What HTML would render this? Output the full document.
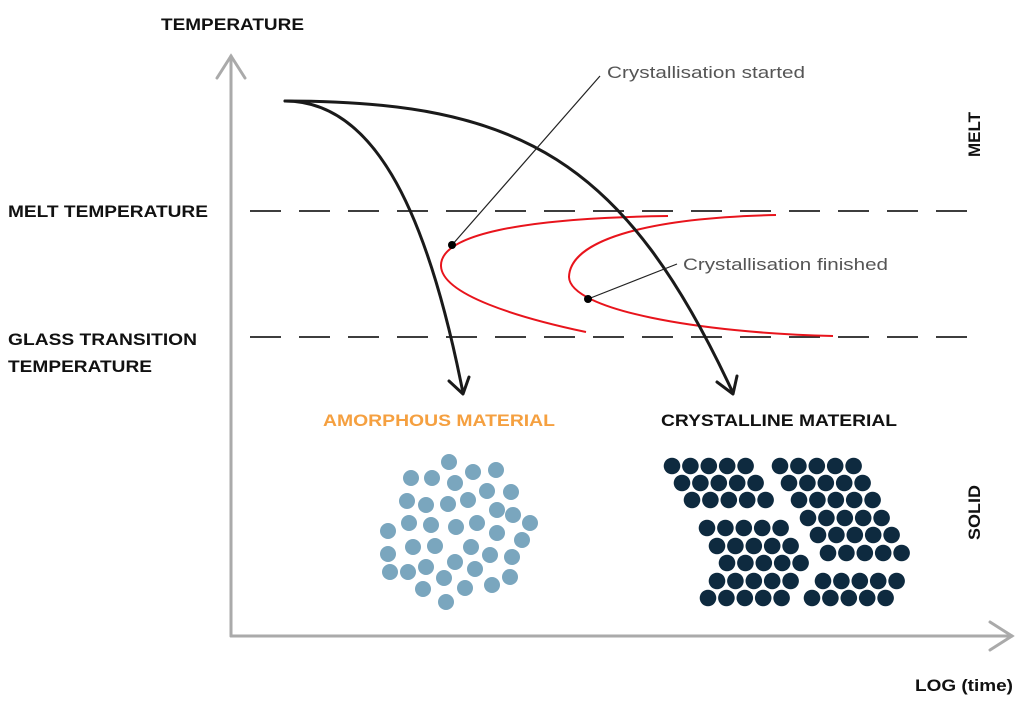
<!DOCTYPE html>
<html><head><meta charset="utf-8"><style>
html,body{margin:0;padding:0;background:#fff;}
svg{display:block;}
.b{font-family:"Liberation Sans",sans-serif;font-weight:bold;font-size:17px;fill:#111;}
.l{font-family:"Liberation Sans",sans-serif;font-size:17px;fill:#555;}
</style></head><body>
<svg width="1024" height="715" viewBox="0 0 1024 715" xmlns="http://www.w3.org/2000/svg">
<!-- axes -->
<g stroke="#aaa" stroke-width="3" fill="none" stroke-linecap="round">
<line x1="231" y1="56" x2="231" y2="636"/>
<polyline points="217,78 231,56 245,78"/>
<line x1="231" y1="636" x2="1012" y2="636"/>
<polyline points="990,622 1012,636 990,650"/>
</g>
<!-- dashed lines -->
<g stroke="#222" stroke-width="1.8" stroke-dasharray="31 18">
<line x1="250" y1="211" x2="980" y2="211"/>
<line x1="250" y1="337" x2="980" y2="337"/>
</g>
<!-- red curves -->
<g stroke="#e8141c" stroke-width="2" fill="none">
<path d="M668,216 C520,218 440,235 441,266 C442,295 520,318 586,332"/>
<path d="M776,215 C640,218 570,242 569,277 C570,310 700,333 833,336"/>
</g>
<!-- black curves -->
<g stroke="#1a1a1a" stroke-width="3" fill="none" stroke-linecap="round" stroke-linejoin="round">
<path d="M285,101 C370,101 425,200 463,393"/>
<polyline points="449,381 463,394 469,377"/>
<path d="M285,101 C520,101 625,160 733,393"/>
<polyline points="717,382 733,394 737,376"/>
</g>
<!-- leaders -->
<g stroke="#222" stroke-width="1.2">
<line x1="452" y1="245" x2="600" y2="76"/>
<line x1="588" y1="299" x2="677" y2="264"/>
</g>
<circle cx="452" cy="245" r="4" fill="#000"/>
<circle cx="588" cy="299" r="4" fill="#000"/>
<text class="l" x="607" y="78" textLength="198" lengthAdjust="spacingAndGlyphs">Crystallisation started</text>
<text class="l" x="683" y="270" textLength="205" lengthAdjust="spacingAndGlyphs">Crystallisation finished</text>
<!-- labels -->
<text class="b" x="161" y="30" textLength="143" lengthAdjust="spacingAndGlyphs">TEMPERATURE</text>
<text class="b" x="8" y="217" textLength="200" lengthAdjust="spacingAndGlyphs">MELT TEMPERATURE</text>
<text class="b" x="8" y="345" textLength="189" lengthAdjust="spacingAndGlyphs">GLASS TRANSITION</text>
<text class="b" x="8" y="372" textLength="144" lengthAdjust="spacingAndGlyphs">TEMPERATURE</text>
<text class="b" x="323" y="426" textLength="232" lengthAdjust="spacingAndGlyphs" style="fill:#f5a040">AMORPHOUS MATERIAL</text>
<text class="b" x="661" y="426" textLength="236" lengthAdjust="spacingAndGlyphs">CRYSTALLINE MATERIAL</text>
<text class="b" x="915" y="691" textLength="98" lengthAdjust="spacingAndGlyphs">LOG (time)</text>
<text class="b" transform="translate(980,157) rotate(-90)" textLength="45" lengthAdjust="spacingAndGlyphs">MELT</text>
<text class="b" transform="translate(980,540) rotate(-90)" textLength="55" lengthAdjust="spacingAndGlyphs">SOLID</text>
<!-- amorphous dots -->
<g fill="#7aa6be">
<circle cx="449" cy="462" r="8"/><circle cx="411" cy="478" r="8"/><circle cx="432" cy="478" r="8"/><circle cx="473" cy="472" r="8"/><circle cx="496" cy="470" r="8"/><circle cx="455" cy="483" r="8"/>
<circle cx="407" cy="501" r="8"/><circle cx="426" cy="505" r="8"/><circle cx="448" cy="504" r="8"/><circle cx="468" cy="500" r="8"/><circle cx="487" cy="491" r="8"/><circle cx="511" cy="492" r="8"/>
<circle cx="497" cy="510" r="8"/><circle cx="513" cy="515" r="8"/><circle cx="530" cy="523" r="8"/>
<circle cx="409" cy="523" r="8"/><circle cx="431" cy="525" r="8"/><circle cx="456" cy="527" r="8"/><circle cx="477" cy="523" r="8"/><circle cx="497" cy="533" r="8"/><circle cx="522" cy="540" r="8"/>
<circle cx="388" cy="531" r="8"/><circle cx="413" cy="547" r="8"/><circle cx="435" cy="546" r="8"/><circle cx="471" cy="547" r="8"/><circle cx="490" cy="555" r="8"/><circle cx="512" cy="557" r="8"/>
<circle cx="388" cy="554" r="8"/><circle cx="390" cy="572" r="8"/><circle cx="408" cy="572" r="8"/><circle cx="426" cy="567" r="8"/><circle cx="455" cy="562" r="8"/><circle cx="475" cy="569" r="8"/>
<circle cx="510" cy="577" r="8"/><circle cx="492" cy="585" r="8"/><circle cx="444" cy="578" r="8"/><circle cx="465" cy="588" r="8"/><circle cx="423" cy="589" r="8"/><circle cx="446" cy="602" r="8"/>
</g>
<!-- crystalline dots -->
<g fill="#0e2a3f" id="cr">
<!-- group1 -->
<g transform="translate(672,466)"><circle cx="0" cy="0" r="8.3"/><circle cx="18.4" cy="0" r="8.3"/><circle cx="36.8" cy="0" r="8.3"/><circle cx="55.2" cy="0" r="8.3"/><circle cx="73.6" cy="0" r="8.3"/></g>
<g transform="translate(682,483)"><circle cx="0" cy="0" r="8.3"/><circle cx="18.4" cy="0" r="8.3"/><circle cx="36.8" cy="0" r="8.3"/><circle cx="55.2" cy="0" r="8.3"/><circle cx="73.6" cy="0" r="8.3"/></g>
<g transform="translate(692,500)"><circle cx="0" cy="0" r="8.3"/><circle cx="18.4" cy="0" r="8.3"/><circle cx="36.8" cy="0" r="8.3"/><circle cx="55.2" cy="0" r="8.3"/><circle cx="73.6" cy="0" r="8.3"/></g>
<!-- group2 -->
<g transform="translate(780,466)"><circle cx="0" cy="0" r="8.3"/><circle cx="18.4" cy="0" r="8.3"/><circle cx="36.8" cy="0" r="8.3"/><circle cx="55.2" cy="0" r="8.3"/><circle cx="73.6" cy="0" r="8.3"/></g>
<g transform="translate(789,483)"><circle cx="0" cy="0" r="8.3"/><circle cx="18.4" cy="0" r="8.3"/><circle cx="36.8" cy="0" r="8.3"/><circle cx="55.2" cy="0" r="8.3"/><circle cx="73.6" cy="0" r="8.3"/></g>
<g transform="translate(799,500)"><circle cx="0" cy="0" r="8.3"/><circle cx="18.4" cy="0" r="8.3"/><circle cx="36.8" cy="0" r="8.3"/><circle cx="55.2" cy="0" r="8.3"/><circle cx="73.6" cy="0" r="8.3"/></g>
<g transform="translate(808,518)"><circle cx="0" cy="0" r="8.3"/><circle cx="18.4" cy="0" r="8.3"/><circle cx="36.8" cy="0" r="8.3"/><circle cx="55.2" cy="0" r="8.3"/><circle cx="73.6" cy="0" r="8.3"/></g>
<g transform="translate(818,535)"><circle cx="0" cy="0" r="8.3"/><circle cx="18.4" cy="0" r="8.3"/><circle cx="36.8" cy="0" r="8.3"/><circle cx="55.2" cy="0" r="8.3"/><circle cx="73.6" cy="0" r="8.3"/></g>
<g transform="translate(828,553)"><circle cx="0" cy="0" r="8.3"/><circle cx="18.4" cy="0" r="8.3"/><circle cx="36.8" cy="0" r="8.3"/><circle cx="55.2" cy="0" r="8.3"/><circle cx="73.6" cy="0" r="8.3"/></g>
<!-- group3 -->
<g transform="translate(707,528)"><circle cx="0" cy="0" r="8.3"/><circle cx="18.4" cy="0" r="8.3"/><circle cx="36.8" cy="0" r="8.3"/><circle cx="55.2" cy="0" r="8.3"/><circle cx="73.6" cy="0" r="8.3"/></g>
<g transform="translate(717,546)"><circle cx="0" cy="0" r="8.3"/><circle cx="18.4" cy="0" r="8.3"/><circle cx="36.8" cy="0" r="8.3"/><circle cx="55.2" cy="0" r="8.3"/><circle cx="73.6" cy="0" r="8.3"/></g>
<g transform="translate(727,563)"><circle cx="0" cy="0" r="8.3"/><circle cx="18.4" cy="0" r="8.3"/><circle cx="36.8" cy="0" r="8.3"/><circle cx="55.2" cy="0" r="8.3"/><circle cx="73.6" cy="0" r="8.3"/></g>
<g transform="translate(717,581)"><circle cx="0" cy="0" r="8.3"/><circle cx="18.4" cy="0" r="8.3"/><circle cx="36.8" cy="0" r="8.3"/><circle cx="55.2" cy="0" r="8.3"/><circle cx="73.6" cy="0" r="8.3"/></g>
<g transform="translate(708,598)"><circle cx="0" cy="0" r="8.3"/><circle cx="18.4" cy="0" r="8.3"/><circle cx="36.8" cy="0" r="8.3"/><circle cx="55.2" cy="0" r="8.3"/><circle cx="73.6" cy="0" r="8.3"/></g>
<!-- group4 -->
<g transform="translate(823,581)"><circle cx="0" cy="0" r="8.3"/><circle cx="18.4" cy="0" r="8.3"/><circle cx="36.8" cy="0" r="8.3"/><circle cx="55.2" cy="0" r="8.3"/><circle cx="73.6" cy="0" r="8.3"/></g>
<g transform="translate(812,598)"><circle cx="0" cy="0" r="8.3"/><circle cx="18.4" cy="0" r="8.3"/><circle cx="36.8" cy="0" r="8.3"/><circle cx="55.2" cy="0" r="8.3"/><circle cx="73.6" cy="0" r="8.3"/></g>
</g>
</svg>
</body></html>
